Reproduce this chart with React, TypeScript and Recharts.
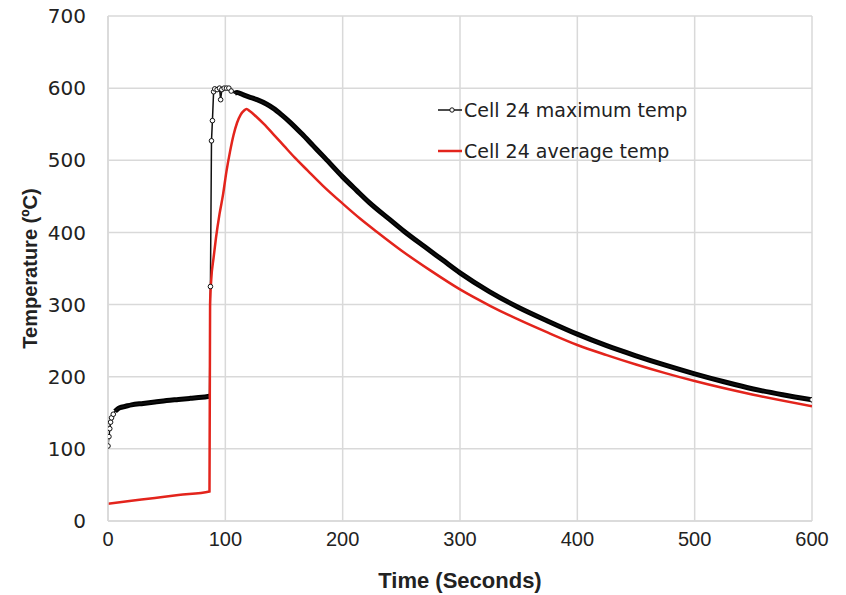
import React from "react";
import { LineChart, Line, XAxis, YAxis, CartesianGrid } from "recharts";

const maxTime = [0, 0.8, 1.5, 2.2, 3, 4.5, 6, 8, 10, 15, 20, 30, 40, 50, 60, 70, 80, 86.5, 87.3, 88.2, 89, 90, 91, 93, 95, 96, 97, 99, 101, 103, 105, 108, 110, 115, 120, 127, 135, 141, 148, 155, 165, 175, 185, 200, 212, 223, 240, 252, 270, 285, 300, 325, 350, 375, 400, 425, 450, 475, 500, 525, 550, 575, 600];
const maxTemp = [104, 117, 128, 137, 143, 148, 152, 155, 157, 159, 161, 163, 165, 167, 168.5, 170, 171.5, 173, 325, 527, 555, 595, 599, 598, 600, 584, 598, 600, 600, 600, 596, 593, 594, 591, 588, 584, 578, 572, 563, 553, 537, 520, 503, 477, 458, 441, 418, 402, 380, 362, 344, 318, 296, 277, 259, 243, 229, 216, 204, 193, 183, 175, 168];

const avgTime = [0, 20, 40, 60, 86.5, 87, 88, 90, 92, 95, 98, 101, 104, 107, 110, 113, 116, 118, 121, 126, 133, 141, 150, 159, 170, 183, 200, 215, 229, 250, 275, 300, 326, 350, 375, 400, 425, 450, 475, 500, 550, 600];
const avgTemp = [24, 28, 32, 36, 41, 300, 335, 365, 392, 425, 452, 485, 512, 535, 552, 563, 569, 571, 568, 561, 550, 536, 520, 504, 486, 465, 440, 419, 401, 375, 347, 321, 298, 279, 261, 244, 230, 217, 205, 194, 175, 159];

const xTicks = [0, 100, 200, 300, 400, 500, 600];
const yTicks = [0, 100, 200, 300, 400, 500, 600, 700];

const seriesNames = ["Cell 24 maximum temp", "Cell 24 average temp"];
const xTitle = "Time (Seconds)";
const yTitle = "Temperature (ºC)";

const isDense = (t: number) => (t >= 6 && t <= 86.5) || t >= 108;

const maxRows = maxTime.map((t, i) => ({
  t,
  v: maxTemp[i],
  thick: isDense(t) ? maxTemp[i] : null,
}));
const avgRows = avgTime.map((t, i) => ({ t, v: avgTemp[i] }));

const RED = "#e3241c";
const GRID = "#d9d9d9";

const MarkerDot = (props: any) => {
  const { cx, cy, payload, index } = props;
  const t = payload?.t;
  const show = t !== undefined && (!isDense(t) || t === 600);
  if (!show || cx == null || cy == null) return <g key={`d${index}`} />;
  return <circle key={`d${index}`} cx={cx} cy={cy} r={2.3} fill="#fff" stroke="#111" strokeWidth={1} />;
};

const LegendBox = () => (
  <svg width={300} height={70} style={{ position: "absolute", left: 432, top: 95 }}>
    <line x1={6} y1={15} x2={30} y2={15} stroke="#111" strokeWidth={1.5} />
    <circle cx={20} cy={15} r={2.2} fill="#fff" stroke="#111" strokeWidth={1} />
    <text x={32} y={15} dominantBaseline="central" fontFamily="DejaVu Sans" fontSize={19} fill="#222">
      {seriesNames[0]}
    </text>
    <line x1={6} y1={56} x2={30} y2={56} stroke={RED} strokeWidth={2.5} />
    <text x={32} y={56} dominantBaseline="central" fontFamily="DejaVu Sans" fontSize={19} fill="#222">
      {seriesNames[1]}
    </text>
  </svg>
);

const XTitle = (props: any) => {
  const vb = props.viewBox || { x: 108, y: 521, width: 704, height: 74 };
  return (
    <text x={vb.x + vb.width / 2} y={vb.y + 59} textAnchor="middle" dominantBaseline="central"
      fontFamily="'Liberation Sans Narrow', 'Liberation Sans', sans-serif" fontWeight="bold" fontSize={22} fill="#222">
      {xTitle}
    </text>
  );
};

const YTitle = (props: any) => {
  const vb = props.viewBox || { x: 0, y: 16, width: 108, height: 505 };
  const x = vb.x + 30;
  const y = vb.y + vb.height / 2;
  return (
    <text x={x} y={y} transform={`rotate(-90 ${x} ${y})`} textAnchor="middle" dominantBaseline="central"
      fontFamily="'Liberation Sans', sans-serif" fontWeight="bold" fontSize={20} fill="#222">
      {yTitle}
    </text>
  );
};

export default function App() {
  return (
    <div style={{ position: "absolute", left: 0, top: 0, width: 846, height: 595, background: "#fff" }}>
      <LineChart width={846} height={595} margin={{ top: 16, right: 34, bottom: 0, left: 0 }}>
        <CartesianGrid stroke={GRID} strokeWidth={1.5} />
        <XAxis
          type="number"
          dataKey="t"
          domain={[0, 600]}
          ticks={xTicks}
          allowDataOverflow
          height={74}
          stroke={GRID}
          strokeWidth={1.5}
          tickLine={false}
          tickSize={0}
          tickMargin={11}
          tick={{ fill: "#222", fontSize: 20, fontFamily: "'Liberation Sans Narrow', 'Liberation Sans', sans-serif" }}
          label={<XTitle />}
        />
        <YAxis
          type="number"
          domain={[0, 700]}
          ticks={yTicks}
          allowDataOverflow
          width={108}
          stroke={GRID}
          strokeWidth={1.5}
          tickLine={false}
          tickSize={0}
          tickMargin={22}
          tick={{ fill: "#222", fontSize: 20, fontFamily: "'DejaVu Sans', sans-serif" }}
          label={<YTitle />}
        />
        <Line
          data={maxRows}
          dataKey="thick"
          type="monotone"
          stroke="#000"
          strokeWidth={5}
          dot={false}
          activeDot={false}
          connectNulls={false}
          isAnimationActive={false}
        />
        <Line
          data={maxRows}
          dataKey="v"
          type="linear"
          stroke="#111"
          strokeWidth={1.5}
          dot={MarkerDot}
          activeDot={false}
          isAnimationActive={false}
        />
        <Line
          data={avgRows}
          dataKey="v"
          type="monotone"
          stroke={RED}
          strokeWidth={2.5}
          dot={false}
          activeDot={false}
          isAnimationActive={false}
        />
      </LineChart>
      <LegendBox />
    </div>
  );
}
